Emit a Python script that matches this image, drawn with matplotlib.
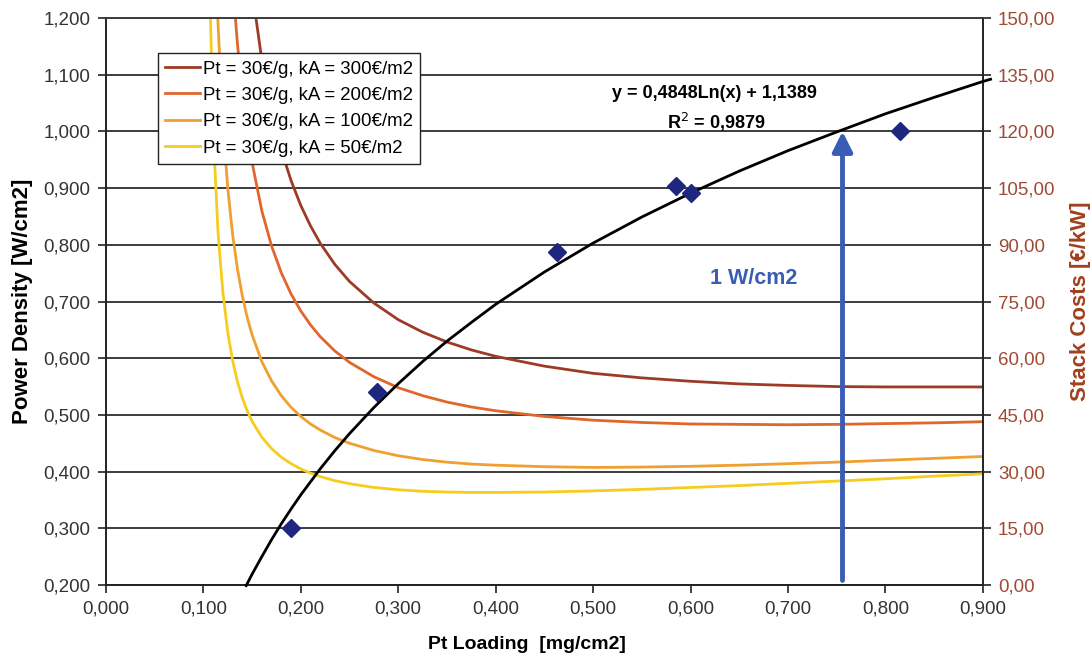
import matplotlib
matplotlib.use("Agg")
from matplotlib import pyplot as plt
from matplotlib.ticker import FuncFormatter, MultipleLocator

plt.rcParams['font.family'] = ['Liberation Sans', 'DejaVu Sans']

# measured points: Pt loading [mg/cm2] vs power density [W/cm2]
loading = [0.190, 0.278, 0.463, 0.585, 0.601, 0.815]
power = [0.300, 0.540, 0.787, 0.904, 0.891, 1.000]

# log trend line y = 0,4848Ln(x) + 1,1389
trend_x = [0.144, 0.150, 0.160, 0.170, 0.180, 0.190, 0.200, 0.210, 0.220, 0.235,
           0.250, 0.275, 0.300, 0.325, 0.350, 0.375, 0.400, 0.450, 0.500, 0.550,
           0.600, 0.650, 0.700, 0.750, 0.800, 0.850, 0.900, 0.908]
trend_y = [0.199, 0.219, 0.250, 0.280, 0.308, 0.334, 0.359, 0.382, 0.405, 0.437,
           0.467, 0.513, 0.555, 0.594, 0.630, 0.663, 0.695, 0.752, 0.803, 0.849,
           0.891, 0.930, 0.966, 0.999, 1.031, 1.060, 1.088, 1.092]

# stack cost curves [EUR/kW]
cost_x = [0.100, 0.105, 0.110, 0.115, 0.120, 0.125, 0.130, 0.135, 0.140, 0.145,
          0.150, 0.160, 0.170, 0.180, 0.190, 0.200, 0.210, 0.220, 0.235, 0.250,
          0.275, 0.300, 0.325, 0.350, 0.375, 0.400, 0.450, 0.500, 0.550, 0.600,
          0.650, 0.700, 0.750, 0.800, 0.850, 0.900]
cost_300 = [1460, 716.6, 483.9, 370.2, 302.7, 258.1, 226.3, 202.6, 184.1, 169.4,
            157.4, 138.9, 125.4, 115.1, 107.0, 100.4, 95.0, 90.4, 84.8, 80.3,
            74.6, 70.2, 66.9, 64.3, 62.2, 60.5, 57.9, 56.0, 54.8, 53.9,
            53.2, 52.8, 52.5, 52.4, 52.4, 52.4]
cost_200 = [1017, 500.4, 338.6, 259.5, 212.6, 181.6, 159.5, 143.1, 130.3, 120.1,
            111.8, 99.0, 89.7, 82.6, 77.0, 72.5, 68.8, 65.7, 61.9, 58.9,
            55.1, 52.2, 50.1, 48.4, 47.1, 46.1, 44.6, 43.6, 43.0, 42.6,
            42.5, 42.4, 42.5, 42.7, 42.9, 43.2]
cost_100 = [575, 284.3, 193.3, 148.8, 122.5, 105.1, 92.8, 83.6, 76.5, 70.8,
            66.2, 59.1, 54.0, 50.1, 47.0, 44.6, 42.6, 41.0, 39.0, 37.5,
            35.6, 34.2, 33.2, 32.5, 32.0, 31.7, 31.3, 31.1, 31.2, 31.4,
            31.7, 32.1, 32.5, 33.0, 33.5, 34.0]
cost_50 = [353.9, 176.2, 120.6, 93.5, 77.5, 66.9, 59.4, 53.8, 49.5, 46.1,
           43.3, 39.1, 36.1, 33.8, 32.1, 30.7, 29.6, 28.7, 27.6, 26.8,
           25.8, 25.2, 24.8, 24.6, 24.5, 24.5, 24.6, 24.9, 25.3, 25.8,
           26.3, 26.9, 27.5, 28.1, 28.8, 29.4]

cost_series = [cost_300, cost_200, cost_100, cost_50]
cost_labels = ["Pt = 30€/g, kA = 300€/m2", "Pt = 30€/g, kA = 200€/m2",
               "Pt = 30€/g, kA = 100€/m2", "Pt = 30€/g, kA = 50€/m2"]
cost_colors = ["#9E3B26", "#E0662C", "#F0A030", "#F6CD1E"]

arrow_x = 0.756
arrow_from, arrow_to = 0.2, 1.0

fig = plt.figure(figsize=(10.92, 6.62), dpi=100)
ax1 = fig.add_axes([0.097, 0.1163, 0.803, 0.8565])
ax2 = ax1.twinx()

# cost axis underneath, power axis on top of it
ax1.set_zorder(ax2.get_zorder() + 1)
ax1.patch.set_visible(False)
ax2.set_facecolor("#C3C1C3")

ax2.set_ylim(0, 150)
ax2.yaxis.set_major_locator(MultipleLocator(15))
ax2.grid(axis='y', color="#3C3C3C", lw=1.4)
ax2.set_axisbelow(True)
handles = []
for ys, lab, c in zip(cost_series, cost_labels, cost_colors):
    h, = ax2.plot(cost_x, ys, color=c, lw=2, label=lab)
    handles.append(h)

ax1.plot(trend_x, trend_y, color="black", lw=2, clip_on=False, zorder=3)
ax1.plot(loading, power, 'D', color="#1E2680", ms=9.5, zorder=4)
ax1.annotate('', xy=(arrow_x, arrow_to), xytext=(arrow_x, arrow_from + 0.008),
             arrowprops=dict(arrowstyle='-|>', color="#3A5DB4", lw=3.5,
                             mutation_scale=30, shrinkA=0, shrinkB=0), zorder=5)
ax1.text(0.665, 0.741, "1 W/cm2", color="#3A5DB4", fontsize=15.5,
         fontweight='bold', ha='center', va='center')
ax1.text(0.625, 1.066, "y = 0,4848Ln(x) + 1,1389", fontsize=13,
         fontweight='bold', ha='center', va='center')
ax1.text(0.626, 1.016, "R$^2$ = 0,9879", fontsize=13,
         fontweight='bold', ha='center', va='center')

ax1.set_xlim(0, 0.9)
ax1.set_ylim(0.2, 1.2)
ax1.xaxis.set_major_locator(MultipleLocator(0.1))
ax1.yaxis.set_major_locator(MultipleLocator(0.1))
ax1.xaxis.set_major_formatter(FuncFormatter(lambda v, p: f"{v:.3f}".replace('.', ',')))
ax1.yaxis.set_major_formatter(FuncFormatter(lambda v, p: f"{v:.3f}".replace('.', ',')))
ax2.yaxis.set_major_formatter(FuncFormatter(lambda v, p: f"{v:.2f}".replace('.', ',')))

ax1.tick_params(axis='both', labelsize=13.5, colors="#222222", labelcolor="#333333",
                length=6, width=1.2, pad=5)
ax2.tick_params(axis='y', labelsize=13.5, labelcolor="#A04A34", color="#222222",
                length=6, width=1.2, pad=5)
for ax in (ax1, ax2):
    for s in ax.spines.values():
        s.set_color("#222222")
        s.set_linewidth(1.2)
    ax.spines['top'].set_color("#3C3C3C")

ax1.set_xlabel("Pt Loading  [mg/cm2]", fontsize=14, fontweight='bold')
ax1.xaxis.set_label_coords(0.48, -0.09)
ax1.set_ylabel("Power Density [W/cm2]", fontsize=16, fontweight='bold')
ax1.yaxis.set_label_coords(-0.083, 0.5)
ax2.set_ylabel("Stack Costs [€/kW]", fontsize=16, fontweight='bold',
               color="#A0401E")
ax2.yaxis.set_label_coords(1.099, 0.5)

leg = ax1.legend(handles=handles, loc='upper left', bbox_to_anchor=(0.059, 0.938),
                 fontsize=13.4, frameon=True, fancybox=False, handlelength=1.85,
                 handletextpad=0.18, borderpad=0.4, labelspacing=0.5,
                 borderaxespad=0)
leg.get_frame().set_edgecolor("#222222")
leg.get_frame().set_linewidth(1.0)
leg.get_frame().set_alpha(1)

fig.savefig("out.png", dpi=100)
